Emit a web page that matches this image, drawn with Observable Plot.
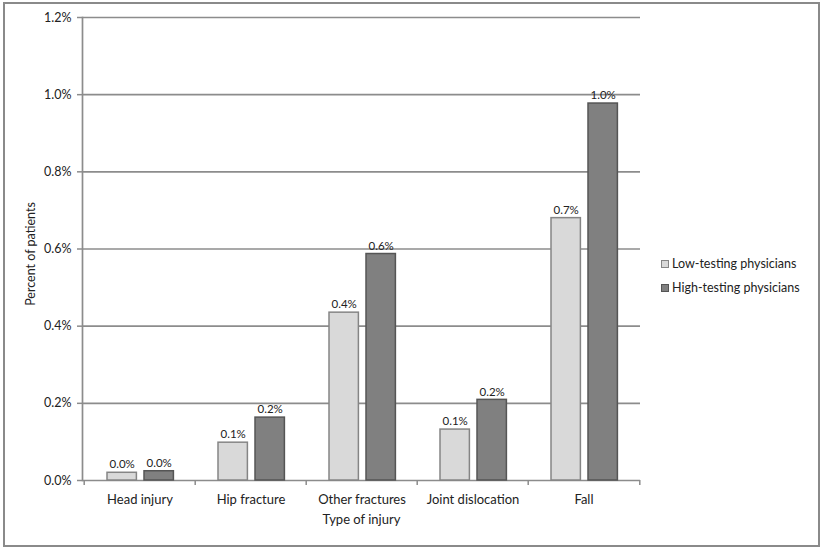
<!DOCTYPE html>
<html><head><meta charset="utf-8">
<script src="https://cdn.jsdelivr.net/npm/d3@7"></script>
<script src="https://cdn.jsdelivr.net/npm/@observablehq/plot@0.6"></script>
<style>
body{margin:0;background:#fff}
#wrap{position:relative;width:822px;height:550px;font-family:Lato,"Open Sans",sans-serif;color:#222}
#border{position:absolute;left:3px;top:2px;width:813px;height:541px;border:2px solid #8a8a8a;pointer-events:none}
#chart{position:absolute;left:0;top:0}
#legend{position:absolute;left:661px;top:252px;font-size:12.5px;line-height:24px}
#legend .row{display:flex;align-items:center;white-space:nowrap}
#legend .sw{width:8px;height:8px;margin-right:3px;box-sizing:border-box}
</style></head>
<body>
<div id="wrap"><div id="chart"></div><div id="border"></div><div id="legend"></div></div>
<script>
const categories = ["Head injury", "Hip fracture", "Other fractures", "Joint dislocation", "Fall"];
const series = ["Low-testing physicians", "High-testing physicians"];
const lowValues = [0.020, 0.098, 0.435, 0.132, 0.680];
const highValues = [0.024, 0.163, 0.587, 0.209, 0.977];
const yTicks = [0, 0.2, 0.4, 0.6, 0.8, 1.0, 1.2];

const lowData = categories.map((c, i) => ({category: c, value: lowValues[i]}));
const highData = categories.map((c, i) => ({category: c, value: highValues[i]}));

const W = 822, H = 550, ML = 82, MR = 182, MT = 17, MB = 70;
const step = (W - ML - MR) / categories.length;
const fmt = d => d.toFixed(1) + "%";
const lowFill = "#d9d9d9", lowStroke = "#858585", highFill = "#808080", highStroke = "#555555";
const gridColor = "#8c8c8c";

const lowL = 23, lowR = step - 53, highL = 60, highR = step - 90;

const chart = Plot.plot({
  width: W, height: H,
  marginLeft: ML, marginRight: MR, marginTop: MT, marginBottom: MB,
  style: {fontFamily: "Lato, 'Open Sans', sans-serif", fontSize: "12px", color: "#222", background: "transparent", overflow: "visible"},
  x: {domain: categories, padding: 0, label: null, axis: null},
  y: {domain: [0, 1.2], label: null, axis: null},
  marks: [
    Plot.ruleY(yTicks, {stroke: gridColor, strokeWidth: 1.7}),
    Plot.frame({anchor: "left", stroke: gridColor, strokeWidth: 1.7}),
    Plot.ruleX(categories, {x: d => d, dx: -step / 2, insetTop: H - MT - MB, insetBottom: -5, stroke: gridColor, strokeWidth: 1.5}),
    Plot.ruleX([categories[categories.length - 1]], {x: d => d, dx: step / 2, insetTop: H - MT - MB, insetBottom: -5, stroke: gridColor, strokeWidth: 1.5}),
    Plot.barY(lowData, {x: "category", y: "value", fill: lowFill, stroke: lowStroke, strokeWidth: 1.5, insetLeft: lowL, insetRight: lowR}),
    Plot.barY(highData, {x: "category", y: "value", fill: highFill, stroke: highStroke, strokeWidth: 1.5, insetLeft: highL, insetRight: highR}),
    Plot.text(lowData, {x: "category", y: "value", text: d => fmt(d.value), dx: (lowL + (step - lowR)) / 2 - step / 2, dy: -8, fontSize: 11.5, fill: "#222"}),
    Plot.text(highData, {x: "category", y: "value", text: d => fmt(d.value), dx: (highL + (step - highR)) / 2 - step / 2, dy: -8, fontSize: 11.5, fill: "#222"}),
    Plot.axisY({ticks: yTicks, tickFormat: fmt, tickSize: 5, tickPadding: 6, stroke: gridColor, strokeWidth: 1.5, label: null, fontSize: 12.5}),
    Plot.axisX({tickSize: 0, tickPadding: 14, label: null, fontSize: 13}),
    Plot.text(["Type of injury"], {frameAnchor: "bottom", dy: 43, fontSize: 13, fill: "#222"}),
    Plot.text(["Percent of patients"], {frameAnchor: "left", textAnchor: "middle", dx: -52, dy: 5, rotate: -90, fontSize: 12.5, fill: "#222"})
  ]
});
document.getElementById("chart").appendChild(chart);

const legend = document.getElementById("legend");
const fills = [[lowFill, lowStroke], [highFill, highStroke]];
series.forEach((s, i) => {
  const row = document.createElement("div"); row.className = "row";
  const sw = document.createElement("span"); sw.className = "sw";
  sw.style.background = fills[i][0]; sw.style.border = "1px solid " + fills[i][1];
  const t = document.createElement("span"); t.textContent = s;
  row.appendChild(sw); row.appendChild(t); legend.appendChild(row);
});
</script>
</body></html>
